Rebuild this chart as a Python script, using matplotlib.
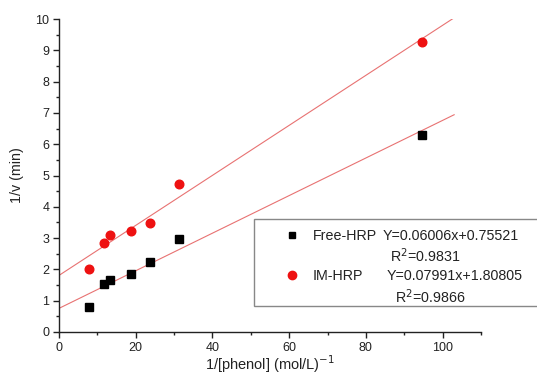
import matplotlib
matplotlib.use("Agg")
import matplotlib.pyplot as plt
import numpy as np
from matplotlib.patches import Rectangle
from matplotlib.lines import Line2D
from matplotlib.ticker import MultipleLocator

plt.rcParams['font.family'] = ['Liberation Sans', 'DejaVu Sans']

# Data
x_phenol = [7.8, 11.7, 13.35, 18.8, 23.6, 31.4, 94.5]
free_hrp = [0.79, 1.53, 1.67, 1.84, 2.25, 2.97, 6.30]
im_hrp = [2.02, 2.84, 3.10, 3.24, 3.47, 4.74, 9.25]

series_names = ["Free-HRP", "IM-HRP"]
slopes = [0.06006, 0.07991]
intercepts = [0.75521, 1.80805]
r2_values = [0.9831, 0.9866]
fit_range = [0, 103]

W, H = 537, 376
fig = plt.figure(figsize=(W / 100, H / 100), dpi=100)
ax = fig.add_axes([59 / W, 1 - 332 / H, (481 - 59) / W, (332 - 19) / H])

xf = np.linspace(fit_range[0], fit_range[1], 50)
for m, b in zip(slopes, intercepts):
    ax.plot(xf, m * xf + b, color='#e87272', lw=0.8, zorder=2)

ax.plot(x_phenol, free_hrp, 's', color='black', ms=5.2, zorder=3)
ax.plot(x_phenol, im_hrp, 'o', color='#ee1111', ms=6.2, mec='#ee1111', zorder=3)

ax.set_xlim(0, 110)
ax.set_ylim(0, 10)
ax.xaxis.set_major_locator(MultipleLocator(20))
ax.xaxis.set_minor_locator(MultipleLocator(10))
ax.yaxis.set_major_locator(MultipleLocator(1))
ax.yaxis.set_minor_locator(MultipleLocator(0.5))
ax.spines['top'].set_visible(False)
ax.spines['right'].set_visible(False)
for s in ['left', 'bottom']:
    ax.spines[s].set_linewidth(1.0)
    ax.spines[s].set_color('#222222')
ax.tick_params(which='major', direction='out', length=4, width=1, labelsize=9,
               colors='#222222', pad=3)
ax.tick_params(which='minor', direction='out', length=2.5, width=1, colors='#222222')

ax.set_xlabel("1/[phenol] (mol/L)$^{-1}$", fontsize=10.5, color='#222222', va='center')
ax.xaxis.set_label_coords(0.5, (332 - 364) / 313)
ax.set_ylabel("1/v (min)", fontsize=10.3, color='#222222', labelpad=8)

# Legend box (manual)
def fx(x):
    return x / W

def fy(y):
    return 1 - y / H

fig.patches.append(Rectangle((fx(254), fy(306)), fx(545) - fx(254), fy(219) - fy(306),
                             transform=fig.transFigure, fill=True, facecolor='white',
                             edgecolor='#888888', lw=1.0, zorder=5))
markers = [dict(marker='s', color='black', ms=5), dict(marker='o', color='#ee1111', ms=6)]
rows_y = [236, 276]
r2_y = [256, 297]
eq_x = [383, 387]
r2_x = [390, 395]
fs = 10.3
for i in range(2):
    fig.add_artist(Line2D([fx(291.5)], [fy(rows_y[i] - 1)], transform=fig.transFigure,
                          linestyle='none', zorder=6, **markers[i]))
    fig.text(fx(313), fy(rows_y[i]), series_names[i], fontsize=fs, va='center',
             ha='left', color='#222222', zorder=6)
    fig.text(fx(eq_x[i]), fy(rows_y[i]),
             f"Y={slopes[i]:.5f}x+{intercepts[i]:.5f}", fontsize=fs, va='center',
             ha='left', color='#222222', zorder=6)
    fig.text(fx(r2_x[i]), fy(r2_y[i]), f"R$^2$={r2_values[i]:.4f}", fontsize=fs,
             va='center', ha='left', color='#222222', zorder=6)

fig.savefig("out.png", dpi=100, facecolor='white')
